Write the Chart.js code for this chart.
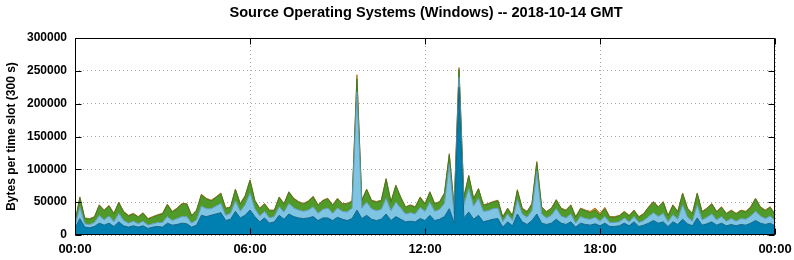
<!DOCTYPE html>
<html>
<head>
<meta charset="utf-8">
<script src="https://cdn.jsdelivr.net/npm/chart.js@4/dist/chart.umd.min.js"></script>
<style>
  html, body { margin: 0; padding: 0; background: #fff; }
  #wrap { width: 794px; height: 260px; }
</style>
</head>
<body>
<div id="wrap"><canvas id="myChart" width="794" height="260"></canvas></div>
<script>
const titleText = "Source Operating Systems (Windows) -- 2018-10-14 GMT";
const yTitle = "Bytes per time slot (300 s)";
const tickLabels = ["00:00", "06:00", "12:00", "18:00", "00:00"];
const slotMinutes = 10; // one reading every 10 min, 00:00 .. 24:00

// stacked layers, in 1000 bytes per slot (bottom to top)
const darkBlue = [
  10, 25, 12, 11, 13, 18, 15, 18, 13, 20,
  14, 12, 14, 12, 14, 10, 12, 13, 12, 18,
  15, 16, 18, 17, 12, 15, 30, 28, 30, 32,
  34, 22, 24, 36, 26, 30, 38, 28, 20, 26,
  18, 20, 30, 24, 32, 28, 26, 25, 26, 28,
  22, 26, 26, 22, 27, 24, 22, 25, 38, 25,
  30, 24, 22, 24, 32, 22, 28, 24, 20, 21,
  20, 25, 22, 30, 22, 24, 28, 40, 18, 225,
  26, 35, 24, 30, 20, 22, 24, 25, 12, 20,
  14, 32, 20, 16, 22, 32, 18, 16, 18, 24,
  18, 16, 20, 12, 18, 16, 15, 17, 14, 18,
  13, 13, 14, 18, 14, 20, 13, 15, 18, 22,
  18, 20, 13, 20, 16, 24, 17, 14, 26, 15,
  17, 20, 15, 18, 14, 16, 14, 16, 15, 18,
  22, 18, 16, 18, 14
];
const lightBlue = [
  4, 18, 5, 5, 6, 12, 8, 11, 7, 13,
  8, 6, 7, 5, 7, 5, 5, 6, 7, 10,
  7, 9, 10, 11, 6, 8, 14, 12, 10, 12,
  14, 8, 9, 16, 10, 16, 26, 12, 9, 10,
  8, 8, 13, 11, 16, 13, 12, 11, 12, 15,
  11, 13, 15, 11, 14, 12, 13, 16, 180, 16,
  20, 16, 15, 15, 24, 15, 22, 17, 12, 13,
  12, 17, 14, 20, 14, 15, 20, 68, 14, 15,
  20, 36, 20, 26, 16, 15, 16, 16, 8, 12,
  8, 22, 12, 11, 15, 65, 14, 10, 12, 16,
  11, 10, 12, 6, 10, 9, 9, 10, 7, 10,
  6, 6, 6, 8, 6, 8, 6, 7, 10, 12,
  10, 13, 7, 11, 8, 22, 10, 7, 20, 8,
  10, 12, 8, 10, 7, 9, 7, 9, 9, 11,
  14, 11, 9, 11, 8
];
const green = [
  5, 14, 8, 8, 8, 15, 14, 15, 12, 16,
  13, 11, 11, 10, 12, 9, 10, 11, 13, 18,
  13, 15, 19, 19, 11, 14, 17, 15, 12, 13,
  15, 10, 9, 17, 11, 13, 19, 12, 11, 11,
  11, 9, 14, 12, 17, 14, 12, 11, 13, 15,
  12, 13, 14, 12, 14, 11, 12, 10, 20, 11,
  19, 12, 13, 13, 29, 13, 25, 16, 10, 11,
  10, 15, 11, 15, 11, 11, 15, 14, 10, 12,
  11, 19, 11, 14, 9, 10, 10, 11, 7, 8,
  7, 14, 8, 8, 10, 13, 10, 9, 10, 13,
  11, 11, 13, 9, 12, 12, 10, 11, 9, 12,
  8, 8, 9, 9, 9, 9, 8, 10, 14, 16,
  14, 17, 9, 14, 11, 17, 13, 11, 17, 12,
  13, 15, 12, 14, 11, 12, 11, 12, 11, 13,
  19, 13, 12, 13, 9
];
const orange = [
  1, 1, 1, 1, 1, 1, 1, 1, 1, 1,
  1, 1, 1, 1, 1, 1, 1, 1, 1, 1,
  1, 1, 1, 1, 1, 1, 1, 1, 1, 1,
  1, 1, 1, 1, 1, 1, 1, 1, 1, 1,
  1, 1, 1, 1, 1, 1, 1, 1, 1, 1,
  1, 1, 1, 1, 1, 1, 1, 1, 6, 1,
  1, 1, 1, 1, 1, 1, 1, 1, 1, 1,
  1, 1, 1, 1, 1, 1, 1, 2, 1, 3,
  1, 1, 1, 1, 1, 1, 1, 1, 1, 1,
  1, 1, 1, 1, 1, 2, 1, 1, 1, 1,
  1, 1, 1, 1, 1, 1, 2, 3, 3, 2,
  1, 1, 1, 1, 1, 1, 1, 1, 1, 1,
  1, 1, 1, 1, 1, 1, 1, 1, 1, 1,
  1, 1, 1, 1, 1, 1, 1, 1, 1, 1,
  1, 1, 1, 1, 1
];

const toPoints = arr => arr.map((v, i) => ({ x: i * slotMinutes, y: v * 1000 }));

const FONT = "'Liberation Sans', Arial, sans-serif";

// gnuplot style frame, inward ticks and title
const framePlugin = {
  id: "frame",
  afterDatasetsDraw(chart) {
    const { ctx, chartArea: a, scales } = chart;
    const L = Math.round(a.left) + 0.5, R = Math.round(a.right) - 0.5;
    const T = Math.round(a.top) + 0.5, B = Math.round(a.bottom) - 0.5;
    ctx.save();
    ctx.strokeStyle = "#000";
    ctx.lineWidth = 1;
    ctx.beginPath();
    scales.y.ticks.forEach(t => {
      const y = Math.round(scales.y.getPixelForValue(t.value)) + 0.5;
      ctx.moveTo(L, y); ctx.lineTo(L + 6, y);
      ctx.moveTo(R, y); ctx.lineTo(R - 6, y);
    });
    scales.x.ticks.forEach(t => {
      const x = Math.round(scales.x.getPixelForValue(t.value)) + 0.5;
      ctx.moveTo(x, T); ctx.lineTo(x, T + 6);
      ctx.moveTo(x, B); ctx.lineTo(x, B - 6);
    });
    ctx.rect(L, T, R - L, B - T);
    ctx.stroke();
    ctx.restore();
  },
  afterDraw(chart) {
    const { ctx, chartArea: a } = chart;
    ctx.save();
    ctx.fillStyle = "#000";
    ctx.font = "bold 14.6px " + FONT;
    ctx.textAlign = "center";
    ctx.textBaseline = "middle";
    ctx.fillText(titleText, (a.left + a.right) / 2 + 1, 13);
    ctx.restore();
  }
};

const myChart = new Chart("myChart", {
  type: "line",
  data: {
    datasets: [
      { label: "dark", data: toPoints(darkBlue), fill: "origin",
        backgroundColor: "rgb(0,128,176)", borderColor: "rgb(20,100,135)" },
      { label: "light", data: toPoints(lightBlue), fill: "-1",
        backgroundColor: "rgb(128,196,228)", borderColor: "rgb(95,155,185)" },
      { label: "green", data: toPoints(green), fill: "-1",
        backgroundColor: "rgb(80,154,42)", borderColor: "rgb(62,122,32)" },
      { label: "orange", data: toPoints(orange), fill: "-1",
        backgroundColor: "rgb(224,140,30)", borderColor: "rgb(185,115,40)" }
    ]
  },
  options: {
    responsive: false,
    animation: false,
    layout: { padding: { top: 38, right: 19, left: 0, bottom: 0 } },
    elements: {
      line: { tension: 0, borderWidth: 1 },
      point: { radius: 0 }
    },
    plugins: {
      legend: { display: false },
      tooltip: { enabled: false }
    },
    scales: {
      x: {
        type: "linear",
        min: 0, max: 1440,
        afterFit: s => { s.height = 25; s.paddingRight = 0; s.paddingLeft = 0; },
        ticks: {
          stepSize: 360,
          padding: 7,
          color: "#000",
          font: { family: FONT, size: 13, weight: "bold" },
          maxRotation: 0,
          callback: v => tickLabels[v / 360]
        },
        grid: { color: "#a8a8a8", drawTicks: false },
        border: { display: false, dash: [1, 3] }
      },
      y: {
        stacked: true,
        min: 0, max: 300000,
        afterFit: s => { s.width = 75; },
        ticks: {
          stepSize: 50000,
          padding: 8,
          color: "#000",
          font: { family: FONT, size: 12, weight: "bold" },
          callback: v => String(v)
        },
        grid: { color: "#a8a8a8", drawTicks: false },
        border: { display: false, dash: [1, 3] },
        title: {
          display: true,
          text: yTitle,
          color: "#000",
          font: { family: FONT, size: 12, weight: "bold" },
          padding: { top: 4, bottom: 4 }
        }
      }
    }
  },
  plugins: [framePlugin]
});
</script>
</body>
</html>
